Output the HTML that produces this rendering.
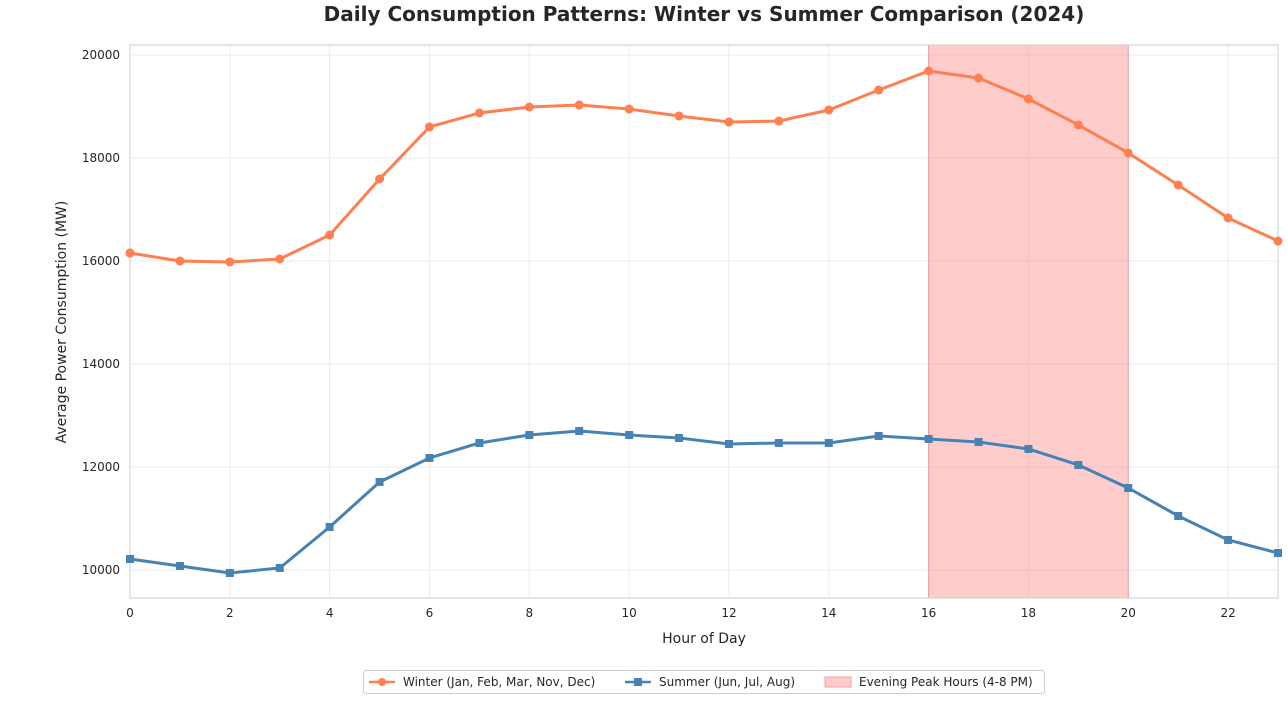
<!DOCTYPE html>
<html><head><meta charset="utf-8"><style>
body{margin:0;background:#fff;font-family:"Liberation Sans","DejaVu Sans",sans-serif;}
svg text{font-family:"DejaVu Sans","Liberation Sans",sans-serif;}
</style></head><body>
<svg id="chart" width="1288" height="702" xmlns="http://www.w3.org/2000/svg">
<text x="704" y="21" text-anchor="middle" font-size="20" font-weight="bold" fill="#262626">Daily Consumption Patterns: Winter vs Summer Comparison (2024)</text>
<g id="grid"></g>
<g id="shade"></g>
<rect x="130" y="45" width="1148" height="553" fill="none" stroke="#ccc"/>
<g id="series"></g>
<g id="ticks"></g>
<text x="704" y="643" text-anchor="middle" font-size="14" fill="#262626">Hour of Day</text>
<text transform="translate(66,322) rotate(-90)" text-anchor="middle" font-size="14" fill="#262626">Average Power Consumption (MW)</text>
<g>
<rect x="363.5" y="670.5" width="681" height="23" rx="3" fill="#fff" stroke="#ccc"/>
<g>
<line x1="369" y1="682" x2="395" y2="682" stroke="#ff7f50" stroke-width="2.5"/><circle cx="382" cy="682" r="4" fill="#ff7f50"/>
<text x="403" y="686" font-size="12" fill="#262626">Winter (Jan, Feb, Mar, Nov, Dec)</text></g>
<g>
<line x1="625" y1="682" x2="651" y2="682" stroke="#4682b4" stroke-width="2.5"/><rect x="634" y="678" width="8" height="8" fill="#4682b4"/>
<text x="659" y="686" font-size="12" fill="#262626">Summer (Jun, Jul, Aug)</text></g>
<g>
<rect x="825" y="677" width="26" height="10" fill="#ffcccc" stroke="#f5a0a0"/>
<text x="859" y="686" font-size="12" fill="#262626">Evening Peak Hours (4-8 PM)</text></g>
</g>
</svg>
<script>
const hours=[0,1,2,3,4,5,6,7,8,9,10,11,12,13,14,15,16,17,18,19,20,21,22,23];
const winter=[16155,16000,15981,16039,16505,17592,18602,18874,18990,19029,18951,18816,18699,18718,18932,19320,19689,19553,19146,18641,18097,17476,16835,16388];
const summer=[10214,10078,9942,10039,10835,11709,12175,12466,12621,12699,12621,12563,12447,12466,12466,12602,12544,12485,12350,12039,11592,11049,10583,10330];
const xTicks=[0,2,4,6,8,10,12,14,16,18,20,22];
const yTicks=[10000,12000,14000,16000,18000,20000];
const peakRange=[16,20];
const NS="http://www.w3.org/2000/svg";
const X0=130,X1=1278,Y0=598,Y1=45,XMIN=0,XMAX=23,YMIN=9456,YMAX=20194;
const xs=v=>X0+(v-XMIN)/(XMAX-XMIN)*(X1-X0);
const ys=v=>Y0-(v-YMIN)/(YMAX-YMIN)*(Y0-Y1);
function mk(tag,attrs,parent){const e=document.createElementNS(NS,tag);for(const k in attrs)e.setAttribute(k,attrs[k]);parent.appendChild(e);return e;}
const grid=document.getElementById('grid'),ticks=document.getElementById('ticks'),series=document.getElementById('series'),shade=document.getElementById('shade');
xTicks.forEach(t=>{const x=xs(t);
 const g=mk('line',{x1:x,x2:x,y1:Y1,y2:Y0,stroke:'#ebebeb'},grid);
 
 
 const l=mk('text',{x:x,y:617,'text-anchor':'middle','font-size':12,fill:'#262626'},ticks);l.textContent=t;
 
 });
yTicks.forEach(t=>{const y=ys(t);
 const g=mk('line',{x1:X0,x2:X1,y1:y,y2:y,stroke:'#ebebeb'},grid);
 
 
 const l=mk('text',{x:120,y:y+4,'text-anchor':'end','font-size':12,fill:'#262626'},ticks);l.textContent=t;
 
 });
const sr=mk('rect',{x:xs(peakRange[0]),y:Y1,width:xs(peakRange[1])-xs(peakRange[0]),height:Y0-Y1,fill:'rgba(255,120,120,0.38)',stroke:'rgba(220,100,100,0.5)'},shade);


function draw(vals,color,name,square){
 const p=mk('polyline',{points:hours.map((h,i)=>xs(h)+','+ys(vals[i])).join(' '),fill:'none',stroke:color,'stroke-width':3,'stroke-linejoin':'round'},series);
 
 
 hours.forEach((h,i)=>{let m;
  if(square)m=mk('rect',{x:xs(h)-4,y:ys(vals[i])-4,width:8,height:8,fill:color},series);
  else m=mk('circle',{cx:xs(h),cy:ys(vals[i]),r:4.5,fill:color},series);
  
  });
}
draw(winter,'#ff7f50','winter',false);
draw(summer,'#4682b4','summer',true);
</script>
</body></html>
